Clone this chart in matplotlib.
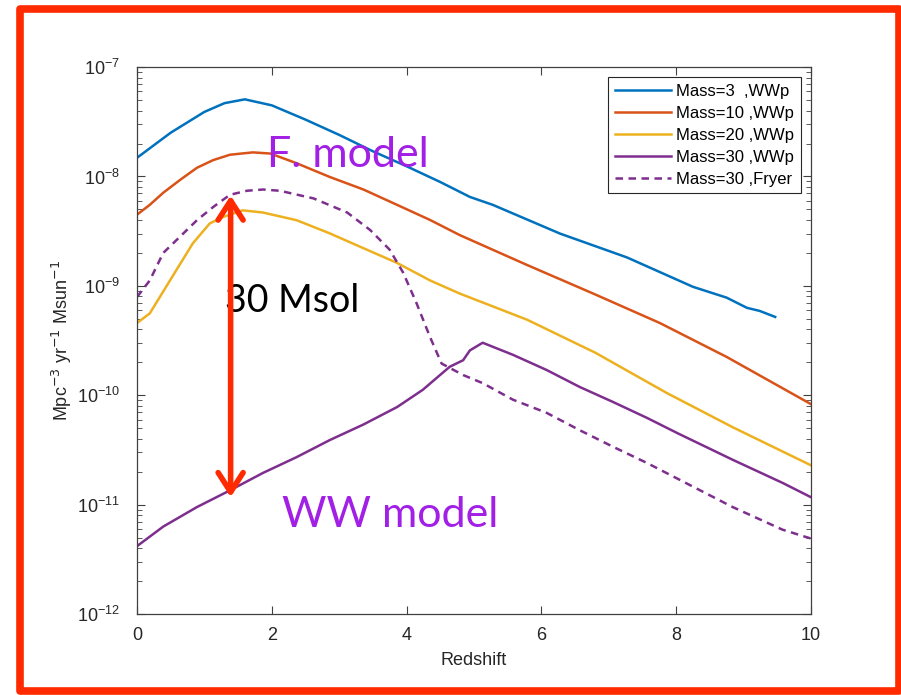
import matplotlib
matplotlib.use("Agg")
import matplotlib.pyplot as plt
from matplotlib.patches import Rectangle, FancyArrowPatch
from matplotlib.ticker import NullFormatter
import numpy as np

# data (redshift, rate)
z_m3 = [0, 0.5, 1.0, 1.3, 1.6, 2.0, 2.5, 3.0, 3.5, 4.0, 4.5, 4.94, 5.28, 6.28, 7.27, 8.25, 8.75, 9.05, 9.24, 9.47]
r_m3 = [1.48e-8, 2.51e-8, 3.89e-8, 4.68e-8, 5.07e-8, 4.47e-8, 3.31e-8, 2.40e-8, 1.70e-8, 1.24e-8,
        8.9e-9, 6.5e-9, 5.5e-9, 3.0e-9, 1.82e-9, 9.8e-10, 7.8e-10, 6.3e-10, 5.9e-10, 5.2e-10]

z_m10 = [0, 0.19, 0.39, 0.64, 0.89, 1.13, 1.38, 1.72, 1.98, 2.37, 2.86, 3.36, 3.86, 4.35, 4.79, 5.79, 6.77, 7.76, 8.75, 10]
r_m10 = [4.47e-9, 5.5e-9, 7.1e-9, 9.3e-9, 1.20e-8, 1.41e-8, 1.58e-8, 1.66e-8, 1.62e-8, 1.32e-8,
         9.9e-9, 7.6e-9, 5.5e-9, 4.0e-9, 2.91e-9, 1.55e-9, 8.5e-10, 4.57e-10, 2.24e-10, 8.3e-11]

z_m20 = [0, 0.19, 0.49, 0.83, 1.08, 1.28, 1.57, 1.87, 2.37, 2.86, 3.36, 3.86, 4.35, 4.79, 5.79, 6.8, 7.86, 8.84, 10]
r_m20 = [4.57e-10, 5.6e-10, 1.12e-9, 2.45e-9, 3.72e-9, 4.27e-9, 4.9e-9, 4.68e-9, 3.98e-9, 3.02e-9,
         2.21e-9, 1.62e-9, 1.12e-9, 8.5e-10, 4.9e-10, 2.45e-10, 1.05e-10, 5.1e-11, 2.29e-11]

z_m30 = [0, 0.39, 0.89, 1.38, 1.87, 2.37, 2.86, 3.36, 3.86, 4.24, 4.64, 4.84, 4.94, 5.13, 5.58,
         6.08, 6.57, 7.06, 7.57, 8.03, 8.84, 9.58, 10]
r_m30 = [4.17e-12, 6.3e-12, 9.5e-12, 1.35e-11, 1.95e-11, 2.72e-11, 3.89e-11, 5.4e-11, 7.8e-11, 1.12e-10,
         1.82e-10, 2.09e-10, 2.57e-10, 3.02e-10, 2.34e-10, 1.70e-10, 1.19e-10, 8.7e-11, 6.2e-11, 4.47e-11,
         2.57e-11, 1.58e-11, 1.17e-11]

z_fry = [0, 0.19, 0.39, 0.64, 0.89, 1.13, 1.38, 1.63, 1.87, 2.12, 2.62, 3.12, 3.46, 3.75, 3.95, 4.15,
         4.35, 4.52, 4.84, 5.13, 5.58, 6.08, 6.57, 7.06, 7.57, 8.01, 8.84, 9.58, 10]
r_fry = [7.9e-10, 1.12e-9, 2.0e-9, 2.82e-9, 3.98e-9, 5.25e-9, 6.8e-9, 7.4e-9, 7.6e-9, 7.4e-9, 6.3e-9,
         4.68e-9, 3.24e-9, 2.14e-9, 1.32e-9, 6.9e-10, 3.39e-10, 1.95e-10, 1.53e-10, 1.29e-10, 9.1e-11,
         6.9e-11, 4.79e-11, 3.39e-11, 2.40e-11, 1.74e-11, 9.5e-12, 5.9e-12, 4.9e-12]

labels = ["Mass=3  ,WWp", "Mass=10 ,WWp", "Mass=20 ,WWp", "Mass=30 ,WWp", "Mass=30 ,Fryer"]
y_decades = [-12, -11, -10, -9, -8, -7]

# annotation positions (redshift, rate)
arrow_z = 1.39
arrow_top = 6.7e-9
arrow_bot = 1.17e-11

plt.rcParams['font.family'] = ['Liberation Sans', 'DejaVu Sans']

fig = plt.figure(figsize=(9.01, 6.95), dpi=100)
ax = fig.add_axes([0.152, 0.1165, 0.748, 0.787])

lw = 1.8
ax.plot(z_m3, r_m3, color='#0072BD', lw=lw, label=labels[0])
ax.plot(z_m10, r_m10, color='#D95319', lw=lw, label=labels[1])
ax.plot(z_m20, r_m20, color='#EDB120', lw=lw, label=labels[2])
ax.plot(z_m30, r_m30, color='#7E2F8E', lw=lw, label=labels[3])
ax.plot(z_fry, r_fry, color='#7E2F8E', lw=lw, ls=(0, (3, 2.2)), label=labels[4])

ax.set_yscale('log')
ax.set_xlim(0, 10)
ax.set_ylim(1e-12, 1e-7)
ax.set_xticks([0, 2, 4, 6, 8, 10])
ax.set_yticks([10.0 ** d for d in y_decades],
              [r'$\mathdefault{10^{%d}}$' % d for d in y_decades])
ax.set_yticks([m * 10.0 ** d for d in y_decades[:-1] for m in range(2, 10)], minor=True)
ax.yaxis.set_minor_formatter(NullFormatter())
ax.set_xlabel("Redshift", fontsize=13, color='#262626', labelpad=6)
ax.set_ylabel("Mpc$^{-3}$ yr$^{-1}$ Msun$^{-1}$", fontsize=13, color='#262626', labelpad=2)

ax.tick_params(which='both', direction='in', top=True, right=True, colors='#404040',
               labelcolor='#262626', labelsize=13)
ax.tick_params(axis='x', which='major', pad=9)
ax.tick_params(axis='y', which='major', pad=12)
ax.tick_params(which='major', length=6)
ax.tick_params(which='minor', length=3.5)
for s in ax.spines.values():
    s.set_color('#404040')
    s.set_linewidth(0.9)

leg = ax.legend(loc='upper right', fontsize=12, handlelength=3.4, labelspacing=0.42,
                borderaxespad=0.6, fancybox=False, framealpha=1, edgecolor='#262626',
                handletextpad=0.3, borderpad=0.4)
leg.get_frame().set_linewidth(0.8)

# overlaid annotations
purple = '#a21fe6'
ax.text(1.93, 1.22e-8, "F. model", color=purple, fontsize=31, family='Lato', va='baseline')
ax.text(2.15, 6.2e-12, "WW model", color=purple, fontsize=31, family='Lato', va='baseline')
ax.text(1.31, 5.75e-10, "30 Msol", color='black', fontsize=27, family='Lato', va='baseline')
arr = FancyArrowPatch((arrow_z, arrow_bot), (arrow_z, arrow_top),
                      arrowstyle='<->,head_length=0.7,head_width=0.45', color='#ff2a00',
                      lw=4, mutation_scale=20, shrinkA=0, shrinkB=0, zorder=5)
ax.add_patch(arr)

# red frame around the slide
fig.patches.append(Rectangle((0.0222, 0.0058), 0.9756, 0.9812, transform=fig.transFigure,
                             fill=False, ec='#ff2a00', lw=5.5, joinstyle='round'))

fig.savefig('out.png', dpi=100)
